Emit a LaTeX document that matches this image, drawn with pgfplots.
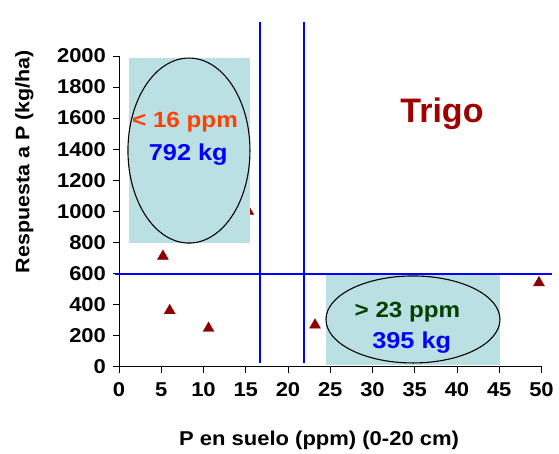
\documentclass[border=0pt]{standalone}
\usepackage{pgfplots}
\pgfplotsset{compat=1.18}
\usepackage{fontspec}
\setmainfont{Liberation Sans}[
  FakeStretch=1.1,
  BoldFont={Liberation Sans Bold},
  BoldFeatures={FakeStretch=1.1}]
\newfontfamily\titlefont{Liberation Sans}

\definecolor{panelfill}{RGB}{187,224,227}
\definecolor{markred}{RGB}{139,0,0}
\definecolor{titlered}{RGB}{160,0,0}
\definecolor{lowtxt}{RGB}{255,64,0}
\definecolor{hightxt}{RGB}{0,64,0}
\definecolor{refblue}{RGB}{0,0,255}

\begin{document}
\begin{tikzpicture}
% page frame
\path (0,0) rectangle (559pt,453pt);
\begin{axis}[
  at={(119pt,86.5pt)}, anchor=south west,
  scale only axis, width=422.5pt, height=310.5pt,
  xmin=0, xmax=50, ymin=0, ymax=2000,
  axis x line*=bottom, axis y line*=left,
  axis line style={black, line width=0.8pt, -},
  xtick={0,5,...,50}, ytick={0,200,...,2000},
  tick align=outside, major tick length=6.5pt,
  tick style={black, line width=0.8pt},
  /pgf/number format/assume math mode=true,
  /pgf/number format/1000 sep={},
  tick label style={font=\bfseries\fontsize{20}{22}\selectfont},
  xticklabel style={yshift=-6pt},
  yticklabel style={xshift=-3pt},
  xlabel={P en suelo (ppm) (0-20 cm)},
  ylabel={Respuesta a P (kg/ha)},
  xlabel style={font=\bfseries\fontsize{20}{22}\selectfont,
    at={([yshift=-78.5pt]rel axis cs:0.4734,0)}, anchor=base},
  ylabel style={font=\bfseries\fontsize{19.5}{22}\selectfont,
    at={([xshift=-89.5pt]rel axis cs:0,0.6596)}, anchor=base},
  clip=false,
  clip marker paths=true,
]
% point partly covered by the upper panel
\addplot[only marks, mark=triangle*, mark size=6.3pt, color=markred]
  coordinates {(15.3,1000)};

% shaded panels
\addplot[draw=none, fill=panelfill]
  coordinates {(1.18,795) (15.5,795) (15.5,1987) (1.18,1987)} -- cycle;
\addplot[draw=none, fill=panelfill]
  coordinates {(24.5,10) (45.1,10) (45.1,589) (24.5,589)} -- cycle;
\draw[black, line width=1.1pt] (axis cs:8.28,1391) ellipse [x radius=61pt, y radius=92.5pt];
\draw[black, line width=1.1pt] (axis cs:34.79,303) ellipse [x radius=87pt, y radius=43.5pt];

% remaining observations
\addplot[only marks, mark=triangle*, mark size=6.3pt, color=markred]
  coordinates {(5.2,710) (6.0,360) (10.6,246) (23.2,267) (49.7,540)};

% critical levels
\addplot[refblue, line width=2pt] coordinates {(16.7,20) (16.7,2219)};
\addplot[refblue, line width=2pt] coordinates {(21.9,20) (21.9,2219)};
\addplot[refblue, line width=2pt] coordinates {(-0.47,595) (51.3,595)};

% annotations
\node[anchor=base, text=lowtxt, font=\bfseries\fontsize{22}{24}\selectfont] at (axis cs:7.81,1541) {< 16 ppm};
\node[anchor=base, text=refblue, font=\bfseries\fontsize{23}{26}\selectfont] at (axis cs:8.2,1330) {792 kg};
\node[anchor=base, text=hightxt, font=\bfseries\fontsize{22}{24}\selectfont] at (axis cs:34.14,317) {> 23 ppm};
\node[anchor=base, text=refblue, font=\bfseries\fontsize{23}{26}\selectfont] at (axis cs:34.64,117) {395 kg};
\node[anchor=base, text=titlered, font=\titlefont\bfseries\fontsize{34}{38}\selectfont] at (axis cs:38.22,1570) {Trigo};
\end{axis}
\end{tikzpicture}
\end{document}
